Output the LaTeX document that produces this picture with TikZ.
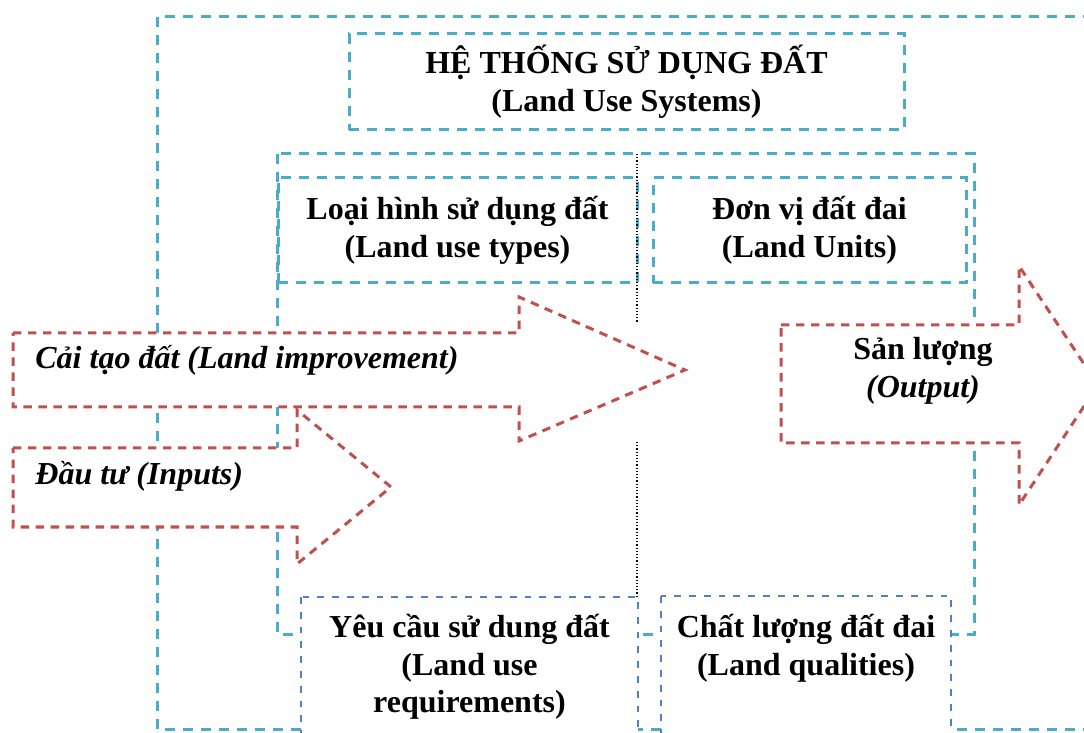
\documentclass[tikz,border=0pt]{standalone}
\usepackage{fontspec}
\setmainfont{Liberation Serif}
\usepackage{tikz}
\usetikzlibrary{positioning}
\usetikzlibrary{calc}
\definecolor{boxcyan}{HTML}{4BACC6}
\definecolor{boxblue}{HTML}{4F81BD}
\definecolor{flowred}{HTML}{C0504D}
\tikzset{cyan line/.style={draw=boxcyan,line width=1.5pt,dash pattern=on 5pt off 4pt}}
\tikzset{blue line/.style={draw=boxblue,fill=white,line width=1.35pt,dash pattern=on 3.4pt off 4pt}}
\tikzset{flow/.style={draw=flowred,fill=white,line width=1.5pt,dash pattern=on 4.2pt off 3.3pt}}
\tikzset{label text/.style={inner sep=0pt,align=center,font=\fontsize{16}{18.8}\selectfont\bfseries}}
\tikzset{flow text/.style={label text,font=\fontsize{16}{18.8}\selectfont\bfseries\itshape}}
\tikzset{cyan box/.style={cyan line,rectangle,label text}}

\begin{document}
\begin{tikzpicture}
      [
      x=0.5pt,y=-0.5pt,
      divider/.style={draw=black,line width=0.6pt,densely dotted},
      ]
      \useasboundingbox (0,0) rectangle (1084,733);
      \clip (0,0) rectangle (1084,733);

      % frames
      \path [cyan line] (157,17) rectangle (1200,729);
      \node [cyan box,minimum width=277.5pt,minimum height=48pt] (system) at (626.5,82)
      {HỆ THỐNG SỬ DỤNG ĐẤT\\(Land Use Systems)};
      \path [cyan line] (277,154) rectangle (974,634);
      \node [cyan box,minimum width=179.5pt,minimum height=52.5pt] (types) at (457.5,230.5)
      {Loại hình sử dụng đất\\(Land use types)};
      \node [cyan box,minimum width=156.5pt,minimum height=52.5pt] (units) at (809.5,230.5)
      {Đơn vị đất đai\\(Land Units)};

      % divider
      \coordinate (D1) at (637,154);
      \coordinate (D2) at (637,322);
      \coordinate (D3) at (637,442);
      \coordinate (D4) at (637,597);
      \draw [divider] (D1) -- (D2);
      \draw [divider] (D3) -- (D4);

      % arrows
      \path [flow] (13,333) -- (519,333) -- (519,297) -- (685,370) -- (519,441) -- (519,407) -- (13,407) -- cycle;
      \node [flow text,anchor=west] (improve) at (35,360) {Cải tạo đất (Land improvement)};

      \path [flow] (13,448) -- (297,448) -- (297,410) -- (391,487) -- (297,564) -- (297,527) -- (13,527) -- cycle;
      \node [flow text,anchor=west] (inputs) at (35,476) {Đầu tư (Inputs)};

      \path [flow] (781,325) -- (1019,325) -- (1019,266) -- (1098,385) -- (1019,505) -- (1019,443) -- (781,443) -- cycle;
      \node [label text] (output) at (923,371) {Sản lượng\\\textit{(Output)}};

      % qualities
      \path [blue line] (301,597) rectangle (638,760);
      \node [label text] (needs) at (469.5,667) {Yêu cầu sử dung đất\\(Land use\\requirements)};
      \path [blue line] (661,596) rectangle (951,760);
      \node [label text] (quality) at (806,648) {Chất lượng đất đai\\(Land qualities)};

    \end{tikzpicture}
\end{document}
